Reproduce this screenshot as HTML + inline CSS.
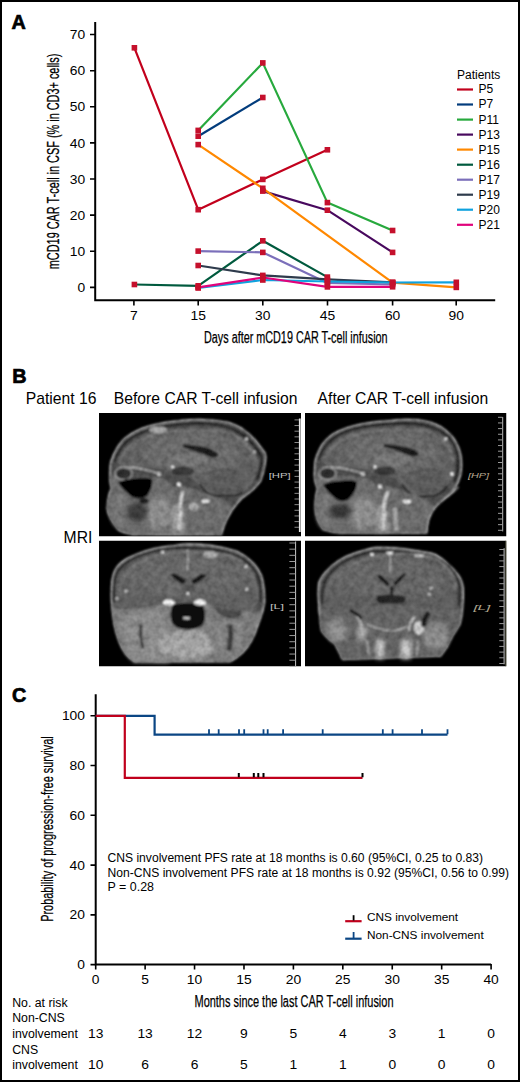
<!DOCTYPE html>
<html><head><meta charset="utf-8">
<style>
html,body{margin:0;padding:0;background:#fff;}
body{width:520px;height:1082px;overflow:hidden;position:relative;}
svg{position:absolute;left:0;top:0;display:block;}
text{font-family:"Liberation Sans",sans-serif;fill:#000;}
</style></head>
<body>
<svg width="520" height="1082" viewBox="0 0 520 1082">
<rect x="0" y="0" width="520" height="1082" fill="#fff"/>
<text x="11.6" y="29.2" font-size="19.8" font-weight="bold" stroke="#000" stroke-width="0.7">A</text>
<path d="M95.2 22 V300.2 H495.2" stroke="#000" stroke-width="2" fill="none"/>
<path d="M90 287.40H95 M90 251.28H95 M90 215.16H95 M90 179.04H95 M90 142.92H95 M90 106.80H95 M90 70.68H95 M90 34.56H95 M133.9 300V305.4 M198.2 300V305.4 M262.8 300V305.4 M327.5 300V305.4 M392.6 300V305.4 M456.2 300V305.4" stroke="#000" stroke-width="1.6"/>
<text x="85.10" y="292.00" font-size="13.0" text-anchor="end" textLength="7.70" lengthAdjust="spacingAndGlyphs" >0</text>
<text x="85.10" y="255.88" font-size="13.0" text-anchor="end" textLength="15.40" lengthAdjust="spacingAndGlyphs" >10</text>
<text x="85.10" y="219.76" font-size="13.0" text-anchor="end" textLength="15.40" lengthAdjust="spacingAndGlyphs" >20</text>
<text x="85.10" y="183.64" font-size="13.0" text-anchor="end" textLength="15.40" lengthAdjust="spacingAndGlyphs" >30</text>
<text x="85.10" y="147.52" font-size="13.0" text-anchor="end" textLength="15.40" lengthAdjust="spacingAndGlyphs" >40</text>
<text x="85.10" y="111.40" font-size="13.0" text-anchor="end" textLength="15.40" lengthAdjust="spacingAndGlyphs" >50</text>
<text x="85.10" y="75.28" font-size="13.0" text-anchor="end" textLength="15.40" lengthAdjust="spacingAndGlyphs" >60</text>
<text x="85.10" y="39.16" font-size="13.0" text-anchor="end" textLength="15.40" lengthAdjust="spacingAndGlyphs" >70</text>
<text x="133.90" y="320.00" font-size="13.0" text-anchor="middle" textLength="7.70" lengthAdjust="spacingAndGlyphs" >7</text>
<text x="198.20" y="320.00" font-size="13.0" text-anchor="middle" textLength="15.40" lengthAdjust="spacingAndGlyphs" >15</text>
<text x="262.80" y="320.00" font-size="13.0" text-anchor="middle" textLength="15.40" lengthAdjust="spacingAndGlyphs" >30</text>
<text x="327.50" y="320.00" font-size="13.0" text-anchor="middle" textLength="15.40" lengthAdjust="spacingAndGlyphs" >45</text>
<text x="392.60" y="320.00" font-size="13.0" text-anchor="middle" textLength="15.40" lengthAdjust="spacingAndGlyphs" >60</text>
<text x="456.20" y="320.00" font-size="13.0" text-anchor="middle" textLength="15.40" lengthAdjust="spacingAndGlyphs" >90</text>
<text x="204.00" y="342.90" font-size="15.8" textLength="183.60" lengthAdjust="spacingAndGlyphs" stroke="#000" stroke-width="0.25">Days after mCD19 CAR T-cell infusion</text>
<g transform="translate(58.7,269.2) rotate(-90)">
<text x="0.00" y="0.00" font-size="16.8" textLength="215.50" lengthAdjust="spacingAndGlyphs" stroke="#000" stroke-width="0.25">mCD19 CAR T-cell in CSF (% in CD3+ cells)</text>
</g>
<g fill="none" stroke-width="2.2" stroke-linejoin="round">
<polyline stroke="#c2001c" points="134.4,47.8 198.2,209.7 262.8,179.4 327.4,149.8"/>
<polyline stroke="#023c7c" points="198.2,136.2 262.8,97.5"/>
<polyline stroke="#27a93d" points="198.2,130.4 262.8,62.9 327.4,202.6 392.6,230.5"/>
<polyline stroke="#48095e" points="262.8,191.1 327.4,210.2 392.6,252.4"/>
<polyline stroke="#ff8800" points="198.2,144.6 262.8,188.3 392.6,282.7 456.3,287.4"/>
<polyline stroke="#005a3e" points="134.4,284.5 198.2,285.8 262.8,240.8 327.4,277.1"/>
<polyline stroke="#7b6fba" points="198.2,251.1 262.8,252.4 327.4,282.9 392.6,284.5"/>
<polyline stroke="#2e3b4c" points="198.2,265.5 262.8,275.4 327.4,279.4 392.6,282.3"/>
<polyline stroke="#0fa2de" points="198.2,288.0 262.8,280.0 327.4,281.5 392.6,282.5 456.3,282.3"/>
<polyline stroke="#e0037b" points="198.2,287.3 262.8,277.5 327.4,286.9 392.6,286.8"/>
</g>
<g fill="#c5102c">
<rect x="131.60" y="45.00" width="5.6" height="5.6"/>
<rect x="195.40" y="206.90" width="5.6" height="5.6"/>
<rect x="260.00" y="176.60" width="5.6" height="5.6"/>
<rect x="324.60" y="147.00" width="5.6" height="5.6"/>
<rect x="195.40" y="133.40" width="5.6" height="5.6"/>
<rect x="260.00" y="94.70" width="5.6" height="5.6"/>
<rect x="195.40" y="127.60" width="5.6" height="5.6"/>
<rect x="260.00" y="60.10" width="5.6" height="5.6"/>
<rect x="324.60" y="199.80" width="5.6" height="5.6"/>
<rect x="389.80" y="227.70" width="5.6" height="5.6"/>
<rect x="260.00" y="188.30" width="5.6" height="5.6"/>
<rect x="324.60" y="207.40" width="5.6" height="5.6"/>
<rect x="389.80" y="249.60" width="5.6" height="5.6"/>
<rect x="195.40" y="141.80" width="5.6" height="5.6"/>
<rect x="260.00" y="185.50" width="5.6" height="5.6"/>
<rect x="389.80" y="279.90" width="5.6" height="5.6"/>
<rect x="453.50" y="284.60" width="5.6" height="5.6"/>
<rect x="131.60" y="281.70" width="5.6" height="5.6"/>
<rect x="195.40" y="283.00" width="5.6" height="5.6"/>
<rect x="260.00" y="238.00" width="5.6" height="5.6"/>
<rect x="324.60" y="274.30" width="5.6" height="5.6"/>
<rect x="195.40" y="248.30" width="5.6" height="5.6"/>
<rect x="260.00" y="249.60" width="5.6" height="5.6"/>
<rect x="324.60" y="280.10" width="5.6" height="5.6"/>
<rect x="389.80" y="281.70" width="5.6" height="5.6"/>
<rect x="195.40" y="262.70" width="5.6" height="5.6"/>
<rect x="260.00" y="272.60" width="5.6" height="5.6"/>
<rect x="324.60" y="276.60" width="5.6" height="5.6"/>
<rect x="389.80" y="279.50" width="5.6" height="5.6"/>
<rect x="195.40" y="285.20" width="5.6" height="5.6"/>
<rect x="260.00" y="277.20" width="5.6" height="5.6"/>
<rect x="324.60" y="278.70" width="5.6" height="5.6"/>
<rect x="389.80" y="279.70" width="5.6" height="5.6"/>
<rect x="453.50" y="279.50" width="5.6" height="5.6"/>
<rect x="195.40" y="284.50" width="5.6" height="5.6"/>
<rect x="260.00" y="274.70" width="5.6" height="5.6"/>
<rect x="324.60" y="284.10" width="5.6" height="5.6"/>
<rect x="389.80" y="284.00" width="5.6" height="5.6"/>
</g>
<text x="457.00" y="79.20" font-size="12" >Patients</text>
<g stroke-width="2.2">
<line x1="457" x2="473" y1="89.5" y2="89.5" stroke="#c2001c"/>
<line x1="457" x2="473" y1="104.5" y2="104.5" stroke="#023c7c"/>
<line x1="457" x2="473" y1="119.6" y2="119.6" stroke="#27a93d"/>
<line x1="457" x2="473" y1="134.6" y2="134.6" stroke="#48095e"/>
<line x1="457" x2="473" y1="149.6" y2="149.6" stroke="#ff8800"/>
<line x1="457" x2="473" y1="164.7" y2="164.7" stroke="#005a3e"/>
<line x1="457" x2="473" y1="179.7" y2="179.7" stroke="#7b6fba"/>
<line x1="457" x2="473" y1="194.7" y2="194.7" stroke="#2e3b4c"/>
<line x1="457" x2="473" y1="209.7" y2="209.7" stroke="#0fa2de"/>
<line x1="457" x2="473" y1="224.8" y2="224.8" stroke="#e0037b"/>
</g>
<text x="478.50" y="93.40" font-size="12" >P5</text>
<text x="478.50" y="108.40" font-size="12" >P7</text>
<text x="478.50" y="123.50" font-size="12" >P11</text>
<text x="478.50" y="138.50" font-size="12" >P13</text>
<text x="478.50" y="153.50" font-size="12" >P15</text>
<text x="478.50" y="168.60" font-size="12" >P16</text>
<text x="478.50" y="183.60" font-size="12" >P17</text>
<text x="478.50" y="198.60" font-size="12" >P19</text>
<text x="478.50" y="213.60" font-size="12" >P20</text>
<text x="478.50" y="228.70" font-size="12" >P21</text>
<text x="12.2" y="383.1" font-size="19.8" font-weight="bold" stroke="#000" stroke-width="0.7">B</text>
<text x="25.80" y="404.40" font-size="15.7" >Patient 16</text>
<text x="113.80" y="404.40" font-size="15.7" >Before CAR T-cell infusion</text>
<text x="317.60" y="404.40" font-size="15.7" >After CAR T-cell infusion</text>
<text x="63.60" y="542.90" font-size="15.7" >MRI</text>
<!-- MRI images -->
<defs>
  <filter id="bl1" x="-5%" y="-5%" width="110%" height="110%">
    <feGaussianBlur in="SourceGraphic" stdDeviation="1.2" result="b"/>
    <feTurbulence type="fractalNoise" baseFrequency="0.16" numOctaves="2" seed="7" result="n"/>
    <feColorMatrix in="n" type="matrix" values="1 0 0 0 0  1 0 0 0 0  1 0 0 0 0  0 0 0 0 1" result="ng"/>
    <feGaussianBlur in="ng" stdDeviation="0.6" result="nb"/>
    <feComposite in="b" in2="nb" operator="arithmetic" k1="0.9" k2="0.55" k3="0" k4="0"/>
  </filter>
  <filter id="bl2" x="-20%" y="-20%" width="140%" height="140%"><feGaussianBlur stdDeviation="2.2"/></filter>
  <clipPath id="c1"><rect x="0" y="0" width="202" height="123.5"/></clipPath>
  <clipPath id="c2"><rect x="0" y="0" width="201.5" height="123.5"/></clipPath>
  <clipPath id="c3"><rect x="0" y="0" width="202" height="126"/></clipPath>
  <clipPath id="c4"><rect x="0" y="0" width="201.5" height="126"/></clipPath>
</defs>

<!-- ===== top-left sagittal ===== -->
<g transform="translate(99,413)" clip-path="url(#c1)">
  <rect width="202" height="123.5" fill="#000"/>
  <g filter="url(#bl1)">
    <!-- head silhouette -->
    <path d="M34 121.5 C26 120 21 118 19 116.6 C12 108 8.5 102 8.2 96 C8 90 9 85 10.5 80 C11.5 77 12.3 76 12.3 75.7 C11 70 10.5 66 11 62 C11 57 11 53 11.8 49 C12.3 47.5 12.5 47 12.8 46.5 C13.8 43.5 14.8 41 16 39 C17.2 36.5 18.5 34 20 32 C21.5 30 23 28 24.5 26.5 C27 24.5 29.5 22.5 32 21 C35.8 18.8 39.6 16.8 43.5 15.3 C47.8 13.7 52 12.5 56.5 11.5 C62 10.2 67.8 9.2 73.5 8.6 C80 7.8 86 7.1 92 6.8 C95 6.6 97.5 6.5 100 6.5 C111 6.7 121 7.8 129.5 9.5 C134.5 11 139 13 143 15.5 C148.5 19.3 153 23.3 156.5 27.5 C160 32 163.5 36.5 166 40 L166.8 44 C166.6 49 165.9 53 164.8 57.4 C163.8 62 162.8 65 161.5 68 C157.8 73 154 77 150 80 C146 83 143.5 84.5 142 86 C138 90 135.5 93.5 133 97 C130.5 101 128.5 104.5 127 108 C125 112 124 116 123 119 L122.5 121.5 Z" fill="#4e4e4e" stroke="#9a9a9a" stroke-width="1.5"/>
    <!-- skull dark band -->
    <path d="M15.5 49 C17.5 41 22 34 28.5 28 C36 22 46 17.8 57 15.3 C70 12.6 86 10.6 100 10.2 C112 10.4 123 12 132.5 15.5 C142 19.8 150 26 155.5 33 C159.5 38.5 162.5 43 162.8 46 C162.6 50 162 54 161 57 C160 61 159 64 158 66.5" fill="none" stroke="#222" stroke-width="2.6"/>
    <!-- brain -->
    <path d="M18.5 50 C20.5 42.5 25 36 31 31 C38.5 25 48 21 59 18.6 C71.5 16 87 14.3 100.5 13.9 C112 14.1 122 15.6 131 18.8 C140 22.8 147 28.6 152 35 C155.5 40 158.5 44.5 159 47.5 C159 51 158.5 54.5 157.5 58 C156.5 62 155.5 66 153.5 69 C151 74 146 78 142 80 L136.6 82.5 L112 82.5 L102.4 73 C96 68 90 63 84 60 C78 57 72 54 66 53 C56 53 46 55 38 55 C28 54.5 21.5 53 18.5 50 Z" fill="#616161"/>
    <ellipse cx="92" cy="40" rx="50" ry="20" fill="#6a6a6a" filter="url(#bl2)"/>
    <!-- cortex bright rim -->
    <path d="M20 48 C24 39 34 29 52 23 C71 17.5 100 15.5 126 19 C143 24 154 34 157 49" fill="none" stroke="#707070" stroke-width="3"/>
    <!-- lesion -->
    <ellipse cx="59" cy="17" rx="9" ry="3.4" fill="#a2a2a2"/>
    <!-- ventricle / callosal dark band -->
    <path d="M84 31.2 C92 31.6 99 32.6 106 34 C111 35.4 115.5 37.5 119 40.5 C119.5 43.5 117.5 45 113 44.5 C106 43 100 40.5 94 37.8 C90 36.2 87 35.2 84 34.2 Z" fill="#1c1c1c"/>
    <!-- thalamus -->
    <ellipse cx="92" cy="46" rx="18" ry="7" fill="#747474"/>
    <!-- brainstem dark -->
    <ellipse cx="84" cy="58" rx="11" ry="4.5" fill="#3a3a3a"/>
    <!-- cerebellum -->
    <ellipse cx="127" cy="69" rx="22" ry="11" fill="#5c5c5c"/>
    <path d="M101 71 C104 76 108 81 113 82.5 L136.6 82.5 C139 82 141 81 143 79" fill="none" stroke="#202020" stroke-width="2"/>
    <path d="M108 60 C116 57 126 56 138 58" fill="none" stroke="#4a4a4a" stroke-width="1.2"/>
    <!-- orbit -->
    <path d="M28 54 C38 55 50 57 60 60.5" fill="none" stroke="#b4b4b4" stroke-width="1.4"/>
    <path d="M15.4 70 C22 68 30 66 38.5 65.5" fill="none" stroke="#a0a0a0" stroke-width="1.4"/>
    <circle cx="60" cy="61" r="2" fill="#d0d0d0"/>
    <!-- face -->
    <path d="M12 63 C24 64 40 64 56 64 C64 65 70 68 74 74 L74 121 L34 121.5 C26 120 21 118 19 116.6 C12 108 8.5 102 8.2 96 C8 90 9 85 10.5 80 C11.5 77 12.3 76 12.3 75.7 C11 70 11 66 12 63 Z" fill="#6c6c6c"/>
    <ellipse cx="24.6" cy="60.5" rx="8.5" ry="6.3" fill="#2e2e2e" stroke="#a0a0a0" stroke-width="1.4"/>
    <ellipse cx="60" cy="100" rx="12" ry="17" fill="#8a8a8a" filter="url(#bl2)"/>
    <ellipse cx="20" cy="98" rx="8" ry="16" fill="#747474" filter="url(#bl2)"/>
    <path d="M19 69 C24 66.5 30 65.5 38 65 C45 64.5 50 64.5 53 66 C54 72 52 78 48 83 C44 86 38 86 33 84 C28 80 22 75 19 69 Z" fill="#050505"/>
    <ellipse cx="38" cy="99" rx="10" ry="10" fill="#3c3c3c" filter="url(#bl2)"/>
    <ellipse cx="45" cy="88" rx="5" ry="3" fill="#1a1a1a"/>
    <!-- spine region -->
    <path d="M74 74 C80 72 90 74 100 78 C110 82 118 84 124 87 C130 90 134 93 133 97 C130.5 101 128.5 104.5 127 108 C125 112 124 116 123 119 L122.5 121.5 L74 121 Z" fill="#6a6a6a"/>
    <path d="M72 92 C76 90 80 92 84 96 L86 118 L72 120 Z" fill="#9a9a9a" filter="url(#bl2)"/>
    <path d="M84 78.5 C82 84 81 90 81.5 97 C82 104 81 110 79.5 117" fill="none" stroke="#c6c6c6" stroke-width="3.4"/>
    <ellipse cx="95" cy="94" rx="5" ry="4" fill="#aaa"/>
    <ellipse cx="106.5" cy="88.3" rx="4.2" ry="1.7" fill="#e4e4e4"/>
    <circle cx="79.9" cy="71.6" r="2" fill="#f2f2f2"/>
    <path d="M150 80 C146 83 143.5 84.5 142 86 C138 90 135.5 93.5 133 97 C130.5 101 128.5 104.5 127 108 C125 112 124 116 123 119" fill="none" stroke="#9a9a9a" stroke-width="1.3"/>
    <circle cx="147.4" cy="26" r="1.4" fill="#e0e0e0"/>
    <circle cx="155.6" cy="39" r="1.3" fill="#d8d8d8"/>
    <circle cx="73.7" cy="54" r="1.4" fill="#e8e8e8"/>
    <circle cx="42" cy="6" r="0" fill="#000"/>
  </g>
  <!-- ruler -->
  <line x1="200.8" y1="5.5" x2="200.8" y2="119" stroke="#e6e6e6" stroke-width="1.8"/>
  <g stroke="#8a8a8a" stroke-width="1">
    <path d="M195.5 6.9H200 M195.5 12.55H200 M195.5 18.2H200 M195.5 23.85H200 M195.5 29.5H200 M195.5 35.15H200 M195.5 40.8H200 M195.5 46.45H200 M195.5 52.1H200 M195.5 57.75H200 M195.5 63.4H200 M195.5 69.05H200 M195.5 74.7H200 M195.5 80.35H200 M195.5 86H200 M195.5 91.65H200 M195.5 97.3H200 M195.5 102.95H200 M195.5 108.6H200 M195.5 114.25H200"/>
  </g>
  <text x="169.7" y="65.2" font-size="8" textLength="22" lengthAdjust="spacingAndGlyphs" style="fill:#c0c0c0">[HP]</text>
</g>

<!-- ===== top-right sagittal ===== -->
<g transform="translate(305,413)" clip-path="url(#c2)">
  <rect width="201.5" height="123.5" fill="#000"/>
  <g filter="url(#bl1)">
    <path d="M36 120 C28 119.5 22 118 18 116.6 C13 110 10.5 103 10.2 96 C9.5 90 10.5 84 12.3 75.7 C10 70 9 65 9.5 60 C9.5 55 9.8 50 10.5 46.5 C11.2 43.5 12.2 41 13.3 39 C14.4 36.3 15.6 34 17 31.8 C18.4 29.8 19.9 28 21.5 26.5 C23.6 24.4 25.9 22.5 28.3 20.8 C30.7 19.4 33.2 18.2 35.7 17.2 C39.3 15.6 43 14.4 46.7 13.4 C50.5 12.3 54.3 11.4 58.2 10.7 C67 9.2 76 8.2 84.6 7.8 C90 7 95 6.6 100 6.5 C104 6.5 108 6.6 112 6.8 C117 7.5 121.5 8.4 126 9.5 C129.5 10.8 133 12.3 136.3 14 C139 15.8 141.5 17.8 143.8 20 C145.8 21.8 147.5 23.7 149 25.8 C150.8 28.6 152.3 31.5 153.5 34.5 C154.7 37.4 155.5 40.3 156 43.3 C156.4 46.3 156.5 49.3 156.5 52.3 C156.4 55.3 156.2 58.3 155.7 61.3 C154.9 64.2 154 67.1 152.8 70 C151.2 73 149.2 76.1 147 79 C145 81.5 142.5 83.5 139.9 85.5 C135.5 89 131 93 128.2 97 C125 102 123 107 122.4 112.7 L121.5 120 Z" fill="#4e4e4e" stroke="#9a9a9a" stroke-width="1.5"/>
    <path d="M13.5 47 C16 38 21 31 28 25.5 C36 19.5 47 15.8 58 13.8 C72 11.6 88 10.3 100 10.1 C112 10.2 124 12.4 134.5 17.4 C143 22 149.2 29.2 151.8 38.5 C153.5 45.5 153.4 55 151.6 62.5 C150.8 65 150 67 149 69" fill="none" stroke="#222" stroke-width="2.6"/>
    <path d="M16.5 48 C19 39.5 24 33 30.5 28 C38 22.5 48.5 19 59 17 C72.5 14.8 88 13.7 100 13.6 C111.5 13.7 122.5 15.7 132.5 20.4 C140.5 24.8 146 31.5 148.3 40 C150 46.5 150 55.5 148.4 62 C147.5 65.5 146 68 144 70.5 C140 75 136 78 132 80.5 L129.7 82.5 L109 84 L98.3 73 C92 68 86 63 80 60 C74 57 68 54 62 53 C52 53 42 55 34 55 C26 54.5 20 52 16.5 48 Z" fill="#616161"/>
    <ellipse cx="86" cy="40" rx="48" ry="20" fill="#6a6a6a" filter="url(#bl2)"/>
    <path d="M19.5 46 C23 37 32 28 50 22 C70 16.5 100 15 122 18.5 C137 23 146.5 32 148 48" fill="none" stroke="#707070" stroke-width="3"/>
    <path d="M79 31 C86 31.5 92 32.2 98 33.2 C104 34.4 109 36.2 113.5 39.5 C114 42.5 112 44 108 43.5 C102 42 96 39.5 90 37 C85 35.5 82 34.5 79 34 Z" fill="#1c1c1c"/>
    <ellipse cx="88" cy="46" rx="18" ry="7" fill="#747474"/>
    <ellipse cx="80" cy="58" rx="11" ry="4.5" fill="#3a3a3a"/>
    <ellipse cx="121" cy="69" rx="21" ry="11" fill="#5c5c5c"/>
    <path d="M97 71 C101 77 105 82 110 84 L129.7 82.5 C135 81 139 78 142 73" fill="none" stroke="#202020" stroke-width="2"/>
    <path d="M104 60 C112 57 122 56 134 58" fill="none" stroke="#4a4a4a" stroke-width="1.2"/>
    <path d="M26 54 C36 55 48 57 58 60.5" fill="none" stroke="#b4b4b4" stroke-width="1.4"/>
    <path d="M13.4 70 C20 68 28 66 36.5 65.5" fill="none" stroke="#a0a0a0" stroke-width="1.4"/>
    <circle cx="58" cy="61" r="2" fill="#d0d0d0"/>
    <path d="M11 62 C24 63 38 63 54 64 C62 65 68 68 72 74 L72 120 L36 120 C28 119.5 22 118 18 116.6 C13 110 10.5 103 10.2 96 C9.5 90 10.5 84 12.3 75.7 C10 70 10 66 11 62 Z" fill="#6c6c6c"/>
    <ellipse cx="22.6" cy="60.5" rx="8.5" ry="6.3" fill="#2e2e2e" stroke="#a0a0a0" stroke-width="1.4"/>
    <ellipse cx="58" cy="100" rx="12" ry="17" fill="#8c8c8c" filter="url(#bl2)"/>
    <ellipse cx="20" cy="100" rx="8" ry="15" fill="#747474" filter="url(#bl2)"/>
    <path d="M17.8 72 C22 69 30 68 38 67.5 C45 67 50 67 52 69 C52 75 49 81 44 86 C40 89 35 89 31 86 C26 82 21 77 17.8 72 Z" fill="#050505"/>
    <ellipse cx="35" cy="98" rx="11" ry="7" fill="#363636" filter="url(#bl2)"/>
    <path d="M72 74 C78 72 88 74 98 78 C108 82 116 84 122 87 C127 90 130 93 128.2 97 C125 102 123 107 122.4 112.7 L121.5 120 L72 120 Z" fill="#6a6a6a"/>
    <path d="M70 92 C74 90 78 92 82 96 L84 118 L70 119 Z" fill="#9a9a9a" filter="url(#bl2)"/>
    <path d="M83.3 78.4 C80 84 78.5 90 79 97 C79.5 104 79 110 78 118" fill="none" stroke="#c6c6c6" stroke-width="3.4"/>
    <path d="M90 95 L91 118" fill="none" stroke="#a8a8a8" stroke-width="4"/>
    <ellipse cx="102" cy="88.5" rx="4.2" ry="1.9" fill="#e4e4e4"/>
    <circle cx="75" cy="73.6" r="2" fill="#f2f2f2"/>
    <path d="M153.5 73.8 C150 78 145 82 139.9 85.5 C135.5 89 131 93 128.2 97 C125 102 123 107 122.4 112.7 L121.5 120" fill="none" stroke="#9a9a9a" stroke-width="1.3"/>
    <circle cx="141" cy="26" r="1.4" fill="#e0e0e0"/>
    <circle cx="147" cy="61" r="1.8" fill="#f0f0f0"/>
    <circle cx="70" cy="54" r="1.4" fill="#e8e8e8"/>
  </g>
  <line x1="197.7" y1="4" x2="197.7" y2="118.4" stroke="#b8b8b8" stroke-width="1"/>
  <g stroke="#9a9a9a" stroke-width="1">
    <path d="M193 4.3H197.6 M193 9.95H197.6 M193 15.6H197.6 M193 21.25H197.6 M193 26.9H197.6 M193 32.55H197.6 M193 38.2H197.6 M193 43.85H197.6 M193 49.5H197.6 M193 55.15H197.6 M193 60.8H197.6 M193 66.45H197.6 M193 72.1H197.6 M193 77.75H197.6 M193 83.4H197.6 M193 89.05H197.6 M193 94.7H197.6 M193 100.35H197.6 M193 106H197.6 M193 111.65H197.6 M193 117.3H197.6"/>
  </g>
  <text x="163" y="64.5" font-size="8" font-style="italic" textLength="21" lengthAdjust="spacingAndGlyphs" style="fill:#b8a890">[HP]</text>
</g>

<!-- ===== bottom-left coronal ===== -->
<g transform="translate(99,540.5)" clip-path="url(#c3)">
  <rect width="202" height="126" fill="#000"/>
  <g filter="url(#bl1)">
    <path d="M75 5.2 C80 4.3 85 3.7 89 3.5 C98 3.8 106 4.3 112 5 C122 6.5 130 8.5 136.6 10.5 C139 11.5 141 12.6 142 13.2 C147 16 151 19.5 155.6 24.1 C158.5 27.5 160.5 31 162.4 35 C163.8 39.5 164.7 44 165 48.7 C165.5 53 165.6 58 165.5 62.5 C164.5 68 163 73.5 161 78.9 C159 84 157.5 89 155.6 93.9 C153.5 98.5 151.3 102.5 148.8 106.2 C145.5 110.5 141.8 114 137.8 117.1 C135.5 118.8 133 120 131 121.2 L35.5 121.2 C32 119 29.5 117 27.3 114.5 C24.5 110.5 22.3 106.5 20.5 102.1 C18 96 16.3 90 15 83 C14 76 13 70 12.6 62.5 C12.3 55 12.3 48 12.9 40.5 C13.5 36 14.5 33 16 29.5 C18.5 25 22.5 21.5 27.3 18.5 C34.5 15 41 12 49 9.8 C56 7.6 65 6 75 5.2 Z" fill="#545454" stroke="#9a9a9a" stroke-width="1.5"/>
    <path d="M71 7.5 C84 6.8 100 7.5 112 9 C126 11 137 14 145 19 C152 24 157 30 159.5 37 C161.5 44 162 53 161.5 62" fill="none" stroke="#252525" stroke-width="2.4"/>
    <path d="M71 7.5 C58 9 46 12.5 36 17 C26 22 19 28.5 16.5 35 C14.8 42 14.5 52 15 62" fill="none" stroke="#252525" stroke-width="2.4"/>
    <!-- brain -->
    <path d="M17.5 62 C17 52 17.5 44 19.5 37.5 C22.5 31 29 25 38 20.5 C48 15.5 60 11.5 72 10.3 C86 9.7 100 10.3 112 11.8 C126 13.8 136 17 143.5 22 C150 26.5 154.5 32 157 38.5 C159 45 159.5 53 159 62 C158 67 156 70 152 72 C142 74 130 70 118 68 C110 66 104 64 98 63 L78 63 C70 64 62 66 52 68 C40 71 30 72 24 70 C20 68 18 65 17.5 62 Z" fill="#606060"/>
    <ellipse cx="88" cy="36" rx="60" ry="20" fill="#686868" filter="url(#bl2)"/>
    <path d="M20 50 C22 34 36 20 60 14 C80 10 110 10 130 15 C148 21 156 34 157 50" fill="none" stroke="#6e6e6e" stroke-width="3"/>
    <path d="M88.8 9.6 L88.8 30" stroke="#b4b4b4" stroke-width="1.3"/>
    <ellipse cx="111" cy="14.2" rx="7.5" ry="3.4" fill="#a8a8a8"/>
    <!-- ventricles -->
    <path d="M71 34 L76 32.5 C80 35 83.5 37.5 87 40 L85 44.5 C80 42 75.5 39 71 34 Z" fill="#161616"/>
    <path d="M108 35 L103 33 C99 35.5 95.5 38 92 40 L94 44.5 C99 42 103.5 39 108 35 Z" fill="#161616"/>
    <ellipse cx="89.5" cy="48.5" rx="8" ry="6" fill="#555" stroke="#6e6e6e" stroke-width="1"/>
    <circle cx="88.8" cy="53" r="1.4" fill="#d8d8d8"/>
    <circle cx="63.5" cy="11.6" r="1.4" fill="#e6e6e6"/>
    <circle cx="27.3" cy="50.5" r="1.4" fill="#e0e0e0"/>
    <circle cx="17.8" cy="58" r="1.3" fill="#d8d8d8"/>
    <circle cx="146.8" cy="26" r="1.4" fill="#ddd"/>
    <circle cx="147.6" cy="48.9" r="1.4" fill="#ddd"/>
    <!-- lower face -->
    <path d="M17 68 C28 70 40 68 52 66 C62 64 70 63 78 63 L98 63 C106 63 116 66 126 68 C138 70 150 72 161 72 C160 78 158.5 84 156.5 90 C154.5 96 151.5 102 148.5 106 C145 110.5 141.5 114 137.5 117 C135 118.6 133 120 131 121.2 L35.5 121.2 C32 119 29.5 117 27.3 114.5 C24.5 110.5 22.3 106.5 20.5 102.1 C18 96 16.3 90 15 83 C14 77 13 72 13 68 Z" fill="#7a7a7a"/>
    <path d="M24 74 C34 72 48 70 66 70 L70 122 L35 121 C30 116 26 108 24 100 Z" fill="#8a8a8a" filter="url(#bl2)"/>
    <ellipse cx="88" cy="104" rx="30" ry="15" fill="#a2a2a2" filter="url(#bl2)"/>
    <ellipse cx="128" cy="96" rx="18" ry="20" fill="#808080" filter="url(#bl2)"/>
    <path d="M42 84 C41 92 42 100 44 108" fill="none" stroke="#3a3a3a" stroke-width="3"/>
    <path d="M131 84 C132 92 132 100 130 110" fill="none" stroke="#3a3a3a" stroke-width="5"/>
    <!-- dark central region -->
    <path d="M74 64 C80 62 96 62 103 64 C107 70 107 78 104 84 C100 88 94 89 88 89 C80 89 75 86 73 82 C71 76 71 70 74 64 Z" fill="#0a0a0a"/>
    <path d="M114 66 C122 68 132 70 142 70 C144 74 140 78 134 78 C126 78 118 74 114 66 Z" fill="#484848"/>
    <ellipse cx="87.5" cy="77.7" rx="3.5" ry="1.4" fill="#bbb"/>
    <ellipse cx="70" cy="62" rx="6" ry="3" fill="#efefef"/>
    <ellipse cx="101" cy="62" rx="6" ry="3" fill="#efefef"/>
  </g>
  <line x1="196.6" y1="1" x2="196.6" y2="126" stroke="#c8c8c8" stroke-width="1"/>
  <g stroke="#9a9a9a" stroke-width="1">
    <path d="M190.4 2.5H196.6 M190.4 8.67H196.6 M190.4 14.84H196.6 M190.4 21.01H196.6 M190.4 27.18H196.6 M190.4 33.35H196.6 M190.4 39.52H196.6 M190.4 45.69H196.6 M190.4 51.86H196.6 M190.4 58.03H196.6 M190.4 64.2H196.6 M190.4 70.37H196.6 M190.4 76.54H196.6 M190.4 82.71H196.6 M190.4 88.88H196.6 M190.4 95.05H196.6 M190.4 101.22H196.6 M190.4 107.39H196.6 M190.4 113.56H196.6 M190.4 119.73H196.6 M190.4 125.9H196.6"/>
  </g>
  <text x="171" y="68" font-size="8" textLength="14" lengthAdjust="spacingAndGlyphs" style="fill:#c0c0c0">[L]</text>
</g>

<!-- ===== bottom-right coronal ===== -->
<g transform="translate(305,540.5)" clip-path="url(#c4)">
  <rect width="201.5" height="126" fill="#000"/>
  <g filter="url(#bl1)">
    <path d="M71 7 C80 6.8 90 7.2 98.3 8.2 C108 9.5 117 11 125.6 12.6 C127.5 13 129 13.5 130.2 14 C135 16.5 139.5 20 143.6 24 C148 28 151.5 31.5 154.2 36 C156.5 39 157.5 43 158.1 47.3 C158.4 52 158.4 56.5 158.1 61 C157.8 66 157.4 70 156.8 74.6 C156.2 78 155.6 81 154.7 84.2 C152.5 88 150.5 91.5 147.9 95.1 C146 98.5 144.2 102 142.4 106 C140 109.5 138 112.5 135.6 115.6 L38 119 C36.5 117.5 35.8 116 35.5 114.5 C33.5 111 32 107.5 30 103.5 C27.5 101.5 25 100 23.2 98 C20 95 17.5 93 16.4 89.8 C15.5 85 15 81 15 76.2 C14 72 13.7 67 13.7 62.5 C13 56 13 50 13.7 43.2 C15 38.5 17.5 35 21 31 C24.5 27 28.5 23.5 33 20.5 C38.5 17 44.5 14.2 51 12.2 C57.5 10.2 64 8.3 71 7 Z" fill="#525252" stroke="#9a9a9a" stroke-width="1.5"/>
    <path d="M71 10.8 C86 10.4 100 11.5 112 13.5 C126 15 136 19.5 144 26 C150 32 153.5 38 154.5 46 C155 53 154.8 60 154 66" fill="none" stroke="#252525" stroke-width="2.4"/>
    <path d="M71 10.8 C58 12.5 47 16.5 37.5 22 C29 28 22.5 34.5 19.5 41.5 C17.5 48 17 55 17 64" fill="none" stroke="#252525" stroke-width="2.4"/>
    <path d="M19 64 C18.5 54 19.5 47 22 41.5 C25.5 34.5 31.5 29 40 24.5 C50 19.5 61 15.5 72 13.8 C86 13.2 100 12.5 112 14.5 C124 17 134 21 141.5 27 C147 32 150.5 38 151.5 45 C152.5 52 152 60 151 66 C150 70 148 72 144 73 C134 74 122 68 110 64 C102 62 96 60 90 60 L84 60 C76 61 68 64 58 68 C46 72 34 74 26 72 C22 70 19.5 67 19 64 Z" fill="#5e5e5e"/>
    <ellipse cx="86" cy="38" rx="56" ry="20" fill="#666" filter="url(#bl2)"/>
    <path d="M23 50 C25 36 40 24.5 62 18.5 C80 12 108 12 126 17 C142 23 150 34 151 50" fill="none" stroke="#6e6e6e" stroke-width="3"/>
    <path d="M80.6 11.6 L88.8 11.6 L85.5 16 Z" fill="#e8e8e8"/>
    <path d="M85.3 14 L85.3 32.8" stroke="#aaa" stroke-width="1.2"/>
    <ellipse cx="114" cy="15" rx="5" ry="1.6" fill="#bbb"/>
    <circle cx="67" cy="13.8" r="1.6" fill="#e6e6e6"/>
    <!-- ventricles -->
    <path d="M71.5 35 L75 34 C79 37 82 40 84.5 43 L83 46 C79 43 75 40 71.5 35 Z" fill="#181818"/>
    <path d="M101.5 33.5 L98.5 32.5 C94.5 36 91.5 39 88.5 42.5 L90 46 C94 42 98 38 101.5 33.5 Z" fill="#181818"/>
    <path d="M84.7 46 L88.8 46 L88 54.6 L85.5 54.6 Z" fill="#1e1e1e"/>
    <path d="M72 55 C80 54 92 54 100 56 C102 59 100 62 96 63 L76 63 C72 62 70 59 72 55 Z" fill="#262626"/>
    <circle cx="126.2" cy="47.5" r="1.6" fill="#ddd"/>
    <circle cx="124.3" cy="54" r="1.4" fill="#bbb"/>
    <!-- lower region -->
    <path d="M15 68 C26 71 40 70 54 68 C64 66 72 64 80 64 L96 64 C106 64 116 66 126 68 C138 70 148 70 156.5 70 C156 76 155.5 80 154.7 84.2 C152.5 88 150.5 91.5 147.9 95.1 C146 98.5 144.2 102 142.4 106 C140 109.5 138 112.5 135.6 115.6 L38 119 C36.5 117.5 35.8 116 35.5 114.5 C33.5 111 32 107.5 30 103.5 C27.5 101.5 25 100 23.2 98 C20 95 17.5 93 16.4 89.8 C15.5 85 15 81 15 76.2 Z" fill="#646464"/>
    <ellipse cx="32.5" cy="90" rx="10" ry="12" fill="#8c8c8c" filter="url(#bl2)"/>
    <ellipse cx="131" cy="96" rx="12" ry="14" fill="#8a8a8a" filter="url(#bl2)"/>
    <ellipse cx="57" cy="92" rx="5" ry="9" fill="#a4a4a4" filter="url(#bl2)"/>
    <ellipse cx="114" cy="87.5" rx="5" ry="7" fill="#c4c4c4"/>
    <path d="M124 72 C120 76 118 80 119 86" fill="none" stroke="#1a1a1a" stroke-width="5"/>
    <path d="M52 76 C56 82 58 88 58 94" fill="none" stroke="#bdbdbd" stroke-width="2"/>
    <path d="M110 76 C106 80 104 84 104 90" fill="none" stroke="#bdbdbd" stroke-width="2"/>
    <path d="M62 84 C72 88 80 90 86 90 C94 90 100 88 106 84" fill="none" stroke="#a8a8a8" stroke-width="1.6"/>
    <path d="M45 70 C50 72 54 74 56 78" fill="none" stroke="#141414" stroke-width="3"/>
    <rect x="71" y="99" width="8" height="19" fill="#c4c4c4" filter="url(#bl2)"/>
    <rect x="96" y="99" width="10" height="19" fill="#c4c4c4" filter="url(#bl2)"/>
    <path d="M62 100 L64 116 M113 100 L112 116" stroke="#9a9a9a" stroke-width="2"/>
  </g>
  <line x1="199.1" y1="7.7" x2="199.1" y2="123.8" stroke="#c8c8c8" stroke-width="1"/>
  <line x1="201" y1="0" x2="201" y2="126" stroke="#6a6a50" stroke-width="1"/>
  <g stroke="#9a9a9a" stroke-width="1">
    <path d="M194.3 9H199.1 M194.3 14.7H199.1 M194.3 20.4H199.1 M194.3 26.1H199.1 M194.3 31.8H199.1 M194.3 37.5H199.1 M194.3 43.2H199.1 M194.3 48.9H199.1 M194.3 54.6H199.1 M194.3 60.3H199.1 M194.3 66H199.1 M194.3 71.7H199.1 M194.3 77.4H199.1 M194.3 83.1H199.1 M194.3 88.8H199.1 M194.3 94.5H199.1 M194.3 100.2H199.1 M194.3 105.9H199.1 M194.3 111.6H199.1 M194.3 117.3H199.1 M194.3 123H199.1"/>
  </g>
  <text x="168.4" y="69.5" font-size="8" font-style="italic" textLength="17" lengthAdjust="spacingAndGlyphs" style="fill:#b0a890">[L]</text>
</g>


<text x="12.0" y="702.0" font-size="19.8" font-weight="bold" stroke="#000" stroke-width="0.7">C</text>
<path d="M95.7 694.3 V964.6 H491.1" stroke="#000" stroke-width="2" fill="none"/>
<path d="M90.5 964.60H95 M90.5 914.84H95 M90.5 865.08H95 M90.5 815.32H95 M90.5 765.56H95 M90.5 715.80H95 M95.70 964V969.4 M145.12 964V969.4 M194.55 964V969.4 M243.98 964V969.4 M293.40 964V969.4 M342.82 964V969.4 M392.25 964V969.4 M441.67 964V969.4 M491.10 964V969.4" stroke="#000" stroke-width="1.6"/>
<text x="85.00" y="969.10" font-size="13.0" text-anchor="end" textLength="7.70" lengthAdjust="spacingAndGlyphs" >0</text>
<text x="85.00" y="919.34" font-size="13.0" text-anchor="end" textLength="15.40" lengthAdjust="spacingAndGlyphs" >20</text>
<text x="85.00" y="869.58" font-size="13.0" text-anchor="end" textLength="15.40" lengthAdjust="spacingAndGlyphs" >40</text>
<text x="85.00" y="819.82" font-size="13.0" text-anchor="end" textLength="15.40" lengthAdjust="spacingAndGlyphs" >60</text>
<text x="85.00" y="770.06" font-size="13.0" text-anchor="end" textLength="15.40" lengthAdjust="spacingAndGlyphs" >80</text>
<text x="85.00" y="720.30" font-size="13.0" text-anchor="end" textLength="23.10" lengthAdjust="spacingAndGlyphs" >100</text>
<text x="95.70" y="984.30" font-size="13.0" text-anchor="middle" textLength="7.70" lengthAdjust="spacingAndGlyphs" >0</text>
<text x="145.12" y="984.30" font-size="13.0" text-anchor="middle" textLength="7.70" lengthAdjust="spacingAndGlyphs" >5</text>
<text x="194.55" y="984.30" font-size="13.0" text-anchor="middle" textLength="15.40" lengthAdjust="spacingAndGlyphs" >10</text>
<text x="243.98" y="984.30" font-size="13.0" text-anchor="middle" textLength="15.40" lengthAdjust="spacingAndGlyphs" >15</text>
<text x="293.40" y="984.30" font-size="13.0" text-anchor="middle" textLength="15.40" lengthAdjust="spacingAndGlyphs" >20</text>
<text x="342.82" y="984.30" font-size="13.0" text-anchor="middle" textLength="15.40" lengthAdjust="spacingAndGlyphs" >25</text>
<text x="392.25" y="984.30" font-size="13.0" text-anchor="middle" textLength="15.40" lengthAdjust="spacingAndGlyphs" >30</text>
<text x="441.67" y="984.30" font-size="13.0" text-anchor="middle" textLength="15.40" lengthAdjust="spacingAndGlyphs" >35</text>
<text x="491.10" y="984.30" font-size="13.0" text-anchor="middle" textLength="15.40" lengthAdjust="spacingAndGlyphs" >40</text>
<g transform="translate(53.1,921.8) rotate(-90)">
<text x="0.00" y="0.00" font-size="16.8" textLength="185.50" lengthAdjust="spacingAndGlyphs" stroke="#000" stroke-width="0.25">Probability of progression-free survival</text>
</g>
<text x="194.50" y="1006.90" font-size="16.0" textLength="199.00" lengthAdjust="spacingAndGlyphs" stroke="#000" stroke-width="0.25">Months since the last CAR T-cell infusion</text>
<g fill="none" stroke-width="2.2">
<path stroke="#0b4684" d="M95.7 715.8 H154.6 V734.7 H447.5"/>
<path stroke="#c0001c" d="M95.7 715.8 H124.8 V777.9 H362.5"/>
</g>
<path stroke="#0b4684" stroke-width="1.8" d="M209 734.2V729.2 M218.7 734.2V729.2 M239 734.2V729.2 M244.2 734.2V729.2 M263.5 734.2V729.2 M267.7 734.2V729.2 M283.1 734.2V729.2 M322.7 734.2V729.2 M382.8 734.2V729.2 M392.6 734.2V729.2 M422 734.2V729.2 M447.5 734.2V729.2"/>
<path stroke="#000" stroke-width="2" d="M238.8 777.2V773 M253.8 777.2V773 M258.3 777.2V773 M263.5 777.2V773 M362.5 777.2V773"/>
<text x="107.50" y="861.80" font-size="12" textLength="375.50" lengthAdjust="spacingAndGlyphs" >CNS involvement PFS rate at 18 months is 0.60 (95%CI, 0.25 to 0.83)</text>
<text x="107.50" y="876.80" font-size="12" textLength="401.50" lengthAdjust="spacingAndGlyphs" >Non-CNS involvement PFS rate at 18 months is 0.92 (95%CI, 0.56 to 0.99)</text>
<text x="107.60" y="891.20" font-size="12" textLength="46.40" lengthAdjust="spacingAndGlyphs" >P = 0.28</text>
<line x1="345.2" x2="361.6" y1="921.2" y2="921.2" stroke="#c0001c" stroke-width="2.2"/>
<line x1="353.6" x2="353.6" y1="915.2" y2="920.5" stroke="#000" stroke-width="1.8"/>
<line x1="345.2" x2="361.6" y1="938.7" y2="938.7" stroke="#0b4684" stroke-width="2.2"/>
<line x1="353.6" x2="353.6" y1="932" y2="938" stroke="#0b4684" stroke-width="1.8"/>
<text x="367.00" y="921.40" font-size="11.8" >CNS involvement</text>
<text x="367.00" y="938.70" font-size="11.8" >Non-CNS involvement</text>
<text x="12.20" y="1006.90" font-size="12.3" >No. at risk</text>
<text x="12.20" y="1022.40" font-size="12.3" >Non-CNS</text>
<text x="12.20" y="1038.00" font-size="12.3" >involvement</text>
<text x="12.20" y="1053.60" font-size="12.3" >CNS</text>
<text x="12.20" y="1069.20" font-size="12.3" >involvement</text>
<text x="95.70" y="1038.00" font-size="13.0" text-anchor="middle" textLength="15.40" lengthAdjust="spacingAndGlyphs" >13</text>
<text x="95.70" y="1069.20" font-size="13.0" text-anchor="middle" textLength="15.40" lengthAdjust="spacingAndGlyphs" >10</text>
<text x="145.12" y="1038.00" font-size="13.0" text-anchor="middle" textLength="15.40" lengthAdjust="spacingAndGlyphs" >13</text>
<text x="145.12" y="1069.20" font-size="13.0" text-anchor="middle" textLength="7.70" lengthAdjust="spacingAndGlyphs" >6</text>
<text x="194.55" y="1038.00" font-size="13.0" text-anchor="middle" textLength="15.40" lengthAdjust="spacingAndGlyphs" >12</text>
<text x="194.55" y="1069.20" font-size="13.0" text-anchor="middle" textLength="7.70" lengthAdjust="spacingAndGlyphs" >6</text>
<text x="243.98" y="1038.00" font-size="13.0" text-anchor="middle" textLength="7.70" lengthAdjust="spacingAndGlyphs" >9</text>
<text x="243.98" y="1069.20" font-size="13.0" text-anchor="middle" textLength="7.70" lengthAdjust="spacingAndGlyphs" >5</text>
<text x="293.40" y="1038.00" font-size="13.0" text-anchor="middle" textLength="7.70" lengthAdjust="spacingAndGlyphs" >5</text>
<text x="293.40" y="1069.20" font-size="13.0" text-anchor="middle" textLength="7.70" lengthAdjust="spacingAndGlyphs" >1</text>
<text x="342.82" y="1038.00" font-size="13.0" text-anchor="middle" textLength="7.70" lengthAdjust="spacingAndGlyphs" >4</text>
<text x="342.82" y="1069.20" font-size="13.0" text-anchor="middle" textLength="7.70" lengthAdjust="spacingAndGlyphs" >1</text>
<text x="392.25" y="1038.00" font-size="13.0" text-anchor="middle" textLength="7.70" lengthAdjust="spacingAndGlyphs" >3</text>
<text x="392.25" y="1069.20" font-size="13.0" text-anchor="middle" textLength="7.70" lengthAdjust="spacingAndGlyphs" >0</text>
<text x="441.67" y="1038.00" font-size="13.0" text-anchor="middle" textLength="7.70" lengthAdjust="spacingAndGlyphs" >1</text>
<text x="441.67" y="1069.20" font-size="13.0" text-anchor="middle" textLength="7.70" lengthAdjust="spacingAndGlyphs" >0</text>
<text x="491.10" y="1038.00" font-size="13.0" text-anchor="middle" textLength="7.70" lengthAdjust="spacingAndGlyphs" >0</text>
<text x="491.10" y="1069.20" font-size="13.0" text-anchor="middle" textLength="7.70" lengthAdjust="spacingAndGlyphs" >0</text>
<rect x="1" y="1" width="518" height="1080" fill="none" stroke="#000" stroke-width="2"/>
</svg>
</body></html>
